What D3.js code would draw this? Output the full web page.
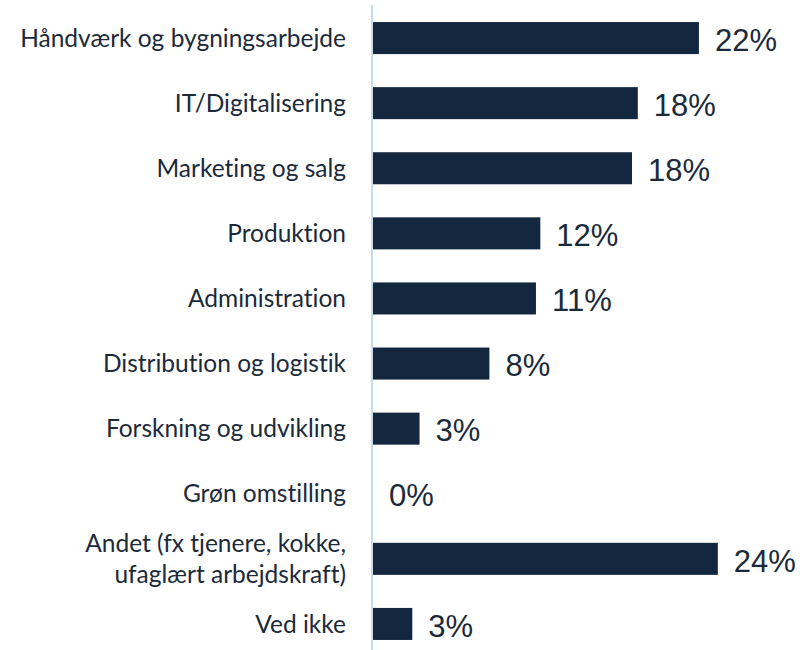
<!DOCTYPE html>
<html>
<head>
<meta charset="utf-8">
<script src="https://cdn.jsdelivr.net/npm/d3@7.9.0/dist/d3.min.js"></script>
<style>
  body { margin: 0; background: #fff; }
  svg { display: block; }
  .cat { font-variant-ligatures: none; }
</style>
</head>
<body>
<svg id="chart" width="804" height="650"></svg>
<script>
// categories (multi-line labels split with \n)
const categories = [
  "Håndværk og bygningsarbejde",
  "IT/Digitalisering",
  "Marketing og salg",
  "Produktion",
  "Administration",
  "Distribution og logistik",
  "Forskning og udvikling",
  "Grøn omstilling",
  "Andet (fx tjenere, kokke,\nufaglært arbejdskraft)",
  "Ved ikke"
];
// share in percent
const values = [22.4, 18.2, 17.8, 11.5, 11.2, 8.0, 3.2, 0, 23.7, 2.7];

const svg = d3.select('#chart');
const navy = '#13283f';

// scales
const x = d3.scaleLinear().domain([0, 25]).range([373, 373 + 25 * 14.55]);
const y = d3.scaleBand()
  .domain(categories)
  .range([5.5, 656.5])
  .paddingInner(0.508)
  .paddingOuter(0.254);

// vertical axis line
svg.append('line')
  .attr('x1', 372).attr('x2', 372)
  .attr('y1', 5).attr('y2', 650)
  .attr('stroke', '#c9dcec')
  .attr('stroke-width', 2);

// bars
svg.selectAll('rect.bar')
  .data(values)
  .join('rect')
  .attr('class', 'bar')
  .attr('x', x(0))
  .attr('y', (d, i) => y(categories[i]))
  .attr('width', d => x(d) - x(0))
  .attr('height', y.bandwidth())
  .attr('fill', navy);

// value labels
svg.selectAll('text.val')
  .data(values)
  .join('text')
  .attr('class', 'val')
  .attr('x', d => x(d) + 16)
  .attr('y', (d, i) => y(categories[i]) + y.bandwidth() / 2)
  .attr('dy', '0.41em')
  .attr('font-family', '"Liberation Sans", Arial, sans-serif')
  .attr('font-size', 31)
  .attr('fill', '#1b2a3b')
  .text(d => Math.round(d) + '%');

// category labels
const labels = svg.selectAll('text.cat')
  .data(categories)
  .join('text')
  .attr('class', 'cat')
  .attr('text-anchor', 'end')
  .attr('font-family', 'Lato, "Open Sans", sans-serif')
  .attr('font-size', 24.5)
  .attr('fill', '#1b2a3b');

labels.each(function(d) {
  const lines = d.split('\n');
  const cy = y(d) + y.bandwidth() / 2;
  const lh = 31;
  lines.forEach((line, j) => {
    d3.select(this).append('tspan')
      .attr('x', 346)
      .attr('y', cy + (j - (lines.length - 1) / 2) * lh)
      .attr('dy', '0.35em')
      .text(line);
  });
});
</script>
</body>
</html>
